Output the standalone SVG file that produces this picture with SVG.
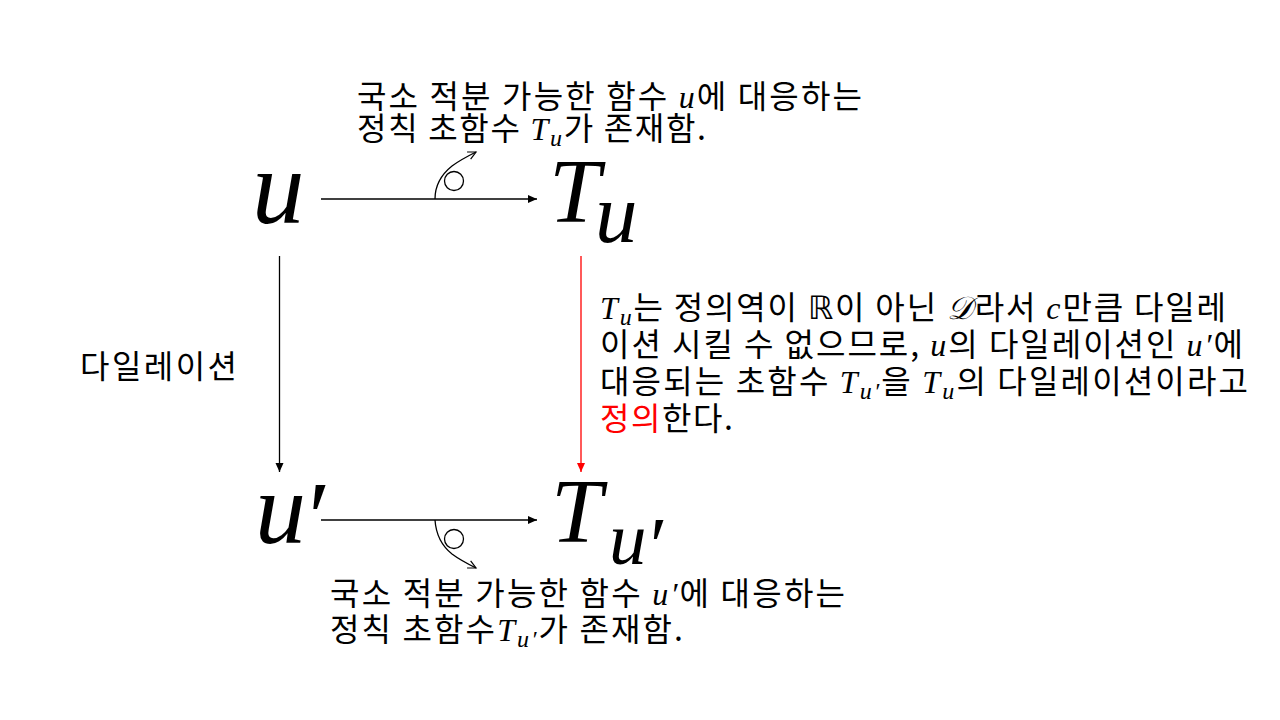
<svg xmlns="http://www.w3.org/2000/svg" width="1280" height="720" viewBox="0 0 1280 720">
<style>
.kr{font-family:"Noto Sans CJK KR","Noto Sans",sans-serif;font-size:32px;fill:#000}
.m{font-family:"Liberation Serif","DejaVu Serif",serif;font-style:italic}
.big{font-family:"Liberation Serif","DejaVu Serif",serif;font-style:italic;fill:#000}
.ln{stroke:#000;stroke-width:1.3;fill:none}
.red{fill:#ff0000}
</style>
<defs>
<marker id="ah" markerUnits="userSpaceOnUse" markerWidth="10" markerHeight="10" viewBox="0 0 10 10" refX="9" refY="5" orient="auto">
<path d="M0,1 L9,5 L0,9 Z" fill="#000"/>
</marker>
<marker id="ahr" markerUnits="userSpaceOnUse" markerWidth="10" markerHeight="10" viewBox="0 0 10 10" refX="9" refY="5" orient="auto">
<path d="M0,1 L9,5 L0,9 Z" fill="#ff0000"/>
</marker>
<marker id="open" markerUnits="userSpaceOnUse" markerWidth="12" markerHeight="12" viewBox="0 0 12 12" refX="10" refY="6" orient="auto">
<path d="M2,2 L10,6 L2,10" fill="none" stroke="#000" stroke-width="1.2"/>
</marker>
</defs>

<g id="connectors">
<line class="ln" x1="321" y1="199" x2="537" y2="199" marker-end="url(#ah)"/>
<line class="ln" x1="321" y1="520" x2="537" y2="520" marker-end="url(#ah)"/>
<line class="ln" x1="279.5" y1="256" x2="279.5" y2="472" marker-end="url(#ah)"/>
<line x1="581" y1="256" x2="581" y2="472" stroke="#ff0000" stroke-width="1.3" marker-end="url(#ahr)"/>
<path class="ln" stroke-width="1" d="M435,199 C435,185 442,174 452,166 C460,160 468,156 476,152" marker-end="url(#open)"/>
<circle class="ln" stroke-width="1" cx="454" cy="181" r="9.5"/>
<path class="ln" stroke-width="1" d="M435,520 C436,535 442,546 452,554 C460,560 468,564 476,568" marker-end="url(#open)"/>
<circle class="ln" stroke-width="1" cx="454" cy="539" r="9.5"/>
</g>

<g id="node-u">
<text class="big" x="252" y="223" font-size="105">u</text>
</g>
<g id="node-Tu">
<text class="big" x="549" y="222" font-size="92">T</text>
<text class="big" x="595" y="242" font-size="85">u</text>
</g>
<g id="node-u-prime">
<text class="big" x="255" y="543" font-size="102">u</text>
<text class="big" x="302" y="552" font-size="102">′</text>
</g>
<g id="node-Tu-prime">
<text class="big" x="551" y="542" font-size="92">T</text>
<text class="big" x="609" y="564" font-size="75">u</text>
<text class="big" x="645" y="573" font-size="80">′</text>
</g>

<g id="label-top">
<text class="kr" x="357" y="108" textLength="505" lengthAdjust="spacing">국소 적분 가능한 함수 <tspan class="m">u</tspan>에 대응하는</text>
<text class="kr" x="357" y="140" textLength="349" lengthAdjust="spacing">정칙 초함수 <tspan class="m">T</tspan><tspan class="m" font-size="24" dy="6">u</tspan><tspan dy="-6">가 존재함.</tspan></text>
</g>

<g id="label-left">
<text class="kr" x="80" y="378" textLength="157" lengthAdjust="spacing">다일레이션</text>
</g>

<g id="label-right">
<text class="kr" x="600" y="319" textLength="626" lengthAdjust="spacing"><tspan class="m">T</tspan><tspan class="m" font-size="24" dy="6">u</tspan><tspan dy="-6">는 정의역이 </tspan><tspan font-family="DejaVu Sans,sans-serif">ℝ</tspan>이 아닌 <tspan font-family="DejaVu Serif,serif" font-style="italic">𝒟</tspan>라서 <tspan class="m">c</tspan>만큼 다일레</text>
<text class="kr" x="600" y="356" textLength="643" lengthAdjust="spacing">이션 시킬 수 없으므로, <tspan class="m">u</tspan>의 다일레이션인 <tspan class="m">u′</tspan>에</text>
<text class="kr" x="600" y="393" textLength="648" lengthAdjust="spacing">대응되는 초함수 <tspan class="m">T</tspan><tspan class="m" font-size="24" dy="6">u′</tspan><tspan dy="-6">을 </tspan><tspan class="m">T</tspan><tspan class="m" font-size="24" dy="6">u</tspan><tspan dy="-6">의 다일레이션이라고</tspan></text>
<text class="kr" x="600" y="430" textLength="133" lengthAdjust="spacing"><tspan class="red">정의</tspan>한다.</text>
</g>

<g id="label-bottom">
<text class="kr" x="330" y="605" textLength="515" lengthAdjust="spacing">국소 적분 가능한 함수 <tspan class="m">u′</tspan>에 대응하는</text>
<text class="kr" x="330" y="641" textLength="353" lengthAdjust="spacing">정칙 초함수<tspan class="m">T</tspan><tspan class="m" font-size="24" dy="6">u′</tspan><tspan dy="-6">가 존재함.</tspan></text>
</g>
</svg>
